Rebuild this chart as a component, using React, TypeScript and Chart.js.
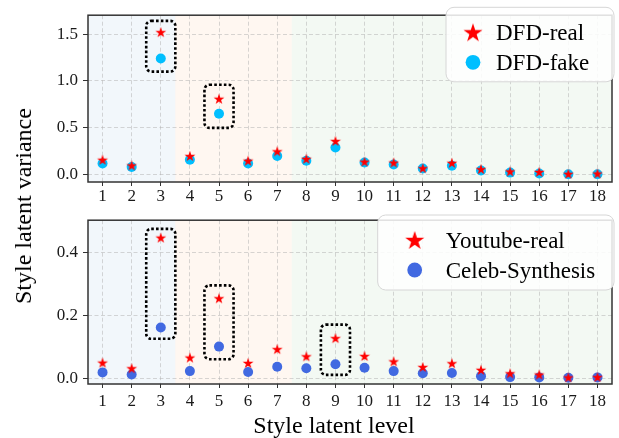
import React, { useEffect, useRef } from "react";
import { Chart, registerables } from "chart.js";

Chart.register(...registerables);

// ---------------- data ----------------
const LEVELS = [1, 2, 3, 4, 5, 6, 7, 8, 9, 10, 11, 12, 13, 14, 15, 16, 17, 18];

const DFD_REAL = [0.16, 0.10, 1.52, 0.20, 0.81, 0.15, 0.25, 0.17, 0.36, 0.14, 0.13, 0.07, 0.127, 0.06, 0.036, 0.03, 0.01, 0.013];
const DFD_FAKE = [0.12, 0.083, 1.24, 0.16, 0.65, 0.12, 0.20, 0.15, 0.29, 0.13, 0.11, 0.067, 0.097, 0.046, 0.023, 0.013, 0.005, 0.005];

const YT_REAL = [0.049, 0.031, 0.447, 0.065, 0.254, 0.048, 0.092, 0.069, 0.127, 0.07, 0.053, 0.035, 0.047, 0.026, 0.015, 0.011, 0.002, 0.003];
const CELEB_SYN = [0.018, 0.011, 0.161, 0.022, 0.10, 0.019, 0.036, 0.031, 0.044, 0.033, 0.022, 0.015, 0.016, 0.006, 0.003, 0.002, 0.001, 0.002];

const X_TICKS = LEVELS;
const TOP_Y_TICKS = [0, 0.5, 1.0, 1.5];
const BOTTOM_Y_TICKS = [0, 0.2, 0.4];

const BAND_EDGES = [0.5, 3.5, 7.5, 18.5];
const BAND_COLORS = ["rgba(31,119,180,0.06)", "rgba(255,127,14,0.06)", "rgba(44,160,44,0.06)"];

const TOP_BOX_X = [3, 5];
const TOP_BOX_LO = [1.1, 0.5];
const TOP_BOX_HI = [1.64, 0.96];

const BOTTOM_BOX_X = [3, 5, 9];
const BOTTOM_BOX_LO = [0.125, 0.06, 0.01];
const BOTTOM_BOX_HI = [0.475, 0.295, 0.17];

const TOP_LABELS = ["DFD-real", "DFD-fake"];
const BOTTOM_LABELS = ["Youtube-real", "Celeb-Synthesis"];
const X_TITLE = "Style latent level";
const Y_TITLE = "Style latent variance";

// ---------------- style ----------------
const FONT = '"Liberation Serif", "DejaVu Serif", serif';
const REAL_COLOR = "#ff0000";
const TOP_FAKE_COLOR = "#00bfff";
const BOTTOM_FAKE_COLOR = "#4169e1";
const GRID_COLOR = "rgba(176,176,176,0.5)";
const FRAME_COLOR = "#333333";
const BOX_HALF = 0.5;
const LEGEND_FONT = 23;

function makeStar(R: number, color: string): HTMLCanvasElement {
  const size = Math.ceil(2 * R + 2);
  const c = document.createElement("canvas");
  c.width = size;
  c.height = size;
  const ctx = c.getContext("2d")!;
  const cx = size / 2;
  const cy = size / 2 + R * 0.09;
  const r = R * 0.381966;
  ctx.beginPath();
  for (let k = 0; k < 10; k++) {
    const rad = k % 2 === 0 ? R : r;
    const a = -Math.PI / 2 + (k * Math.PI) / 5;
    const px = cx + rad * Math.cos(a);
    const py = cy + rad * Math.sin(a);
    if (k === 0) ctx.moveTo(px, py);
    else ctx.lineTo(px, py);
  }
  ctx.closePath();
  ctx.fillStyle = color;
  ctx.fill();
  return c;
}

function roundRectPath(ctx: CanvasRenderingContext2D, x: number, y: number, w: number, h: number, r: number) {
  ctx.beginPath();
  ctx.moveTo(x + r, y);
  ctx.lineTo(x + w - r, y);
  ctx.arcTo(x + w, y, x + w, y + r, r);
  ctx.lineTo(x + w, y + h - r);
  ctx.arcTo(x + w, y + h, x + w - r, y + h, r);
  ctx.lineTo(x + r, y + h);
  ctx.arcTo(x, y + h, x, y + h - r, r);
  ctx.lineTo(x, y + r);
  ctx.arcTo(x, y, x + r, y, r);
  ctx.closePath();
}

type PanelSpec = {
  real: number[];
  fake: number[];
  labels: string[];
  fakeColor: string;
  yMin: number;
  yMax: number;
  yTicks: number[];
  boxX: number[];
  boxLo: number[];
  boxHi: number[];
  legend: { x: number; y: number; w: number; h: number; markerDx: number; textDx: number };
  padTop: number;
  xAxisHeight: number;
  xTickPad: number;
  xTitle?: { text: string; x: number; y: number };
};

function makeConfig(p: PanelSpec): any {
  const plotStar = makeStar(5.7, REAL_COLOR);
  const legendStar = makeStar(10, REAL_COLOR);

  const decor = {
    id: "decor",
    beforeDraw(chart: any) {
      const { ctx, chartArea } = chart;
      const xs = chart.scales.x;
      ctx.save();
      for (let i = 0; i < BAND_COLORS.length; i++) {
        const x1 = xs.getPixelForValue(BAND_EDGES[i]);
        const x2 = xs.getPixelForValue(BAND_EDGES[i + 1]);
        ctx.fillStyle = BAND_COLORS[i];
        ctx.fillRect(x1, chartArea.top, x2 - x1, chartArea.bottom - chartArea.top);
      }
      ctx.restore();
    },
    afterDatasetsDraw(chart: any) {
      const { ctx, chartArea } = chart;
      const xs = chart.scales.x;
      const ys = chart.scales.y;
      ctx.save();
      ctx.strokeStyle = "#000";
      ctx.lineWidth = 2.6;
      ctx.setLineDash([2.6, 2.2]);
      for (let i = 0; i < p.boxX.length; i++) {
        const x1 = xs.getPixelForValue(p.boxX[i] - BOX_HALF);
        const x2 = xs.getPixelForValue(p.boxX[i] + BOX_HALF);
        const y1 = ys.getPixelForValue(p.boxHi[i]);
        const y2 = ys.getPixelForValue(p.boxLo[i]);
        roundRectPath(ctx, x1, y1, x2 - x1, y2 - y1, 5);
        ctx.stroke();
      }
      ctx.setLineDash([]);
      ctx.strokeStyle = FRAME_COLOR;
      ctx.lineWidth = 1.5;
      ctx.strokeRect(chartArea.left, chartArea.top, chartArea.right - chartArea.left, chartArea.bottom - chartArea.top);
      ctx.restore();
    },
    afterDraw(chart: any) {
      const { ctx } = chart;
      const L = p.legend;
      ctx.save();
      roundRectPath(ctx, L.x, L.y, L.w, L.h, 8);
      ctx.fillStyle = "rgba(255,255,255,0.85)";
      ctx.fill();
      ctx.strokeStyle = "#d6d6d6";
      ctx.lineWidth = 1;
      ctx.stroke();
      const rows = [L.y + 25, L.y + 55];
      const mx = L.x + L.markerDx;
      ctx.drawImage(legendStar, mx - legendStar.width / 2, rows[0] - legendStar.height / 2);
      ctx.beginPath();
      ctx.arc(mx, rows[1], 7.4, 0, Math.PI * 2);
      ctx.fillStyle = p.fakeColor;
      ctx.fill();
      ctx.fillStyle = "#000";
      ctx.font = `${LEGEND_FONT}px ${FONT}`;
      ctx.textBaseline = "alphabetic";
      ctx.textAlign = "left";
      for (let i = 0; i < 2; i++) {
        ctx.fillText(p.labels[i], L.x + L.textDx, rows[i] + LEGEND_FONT * 0.331);
      }
      if (p.xTitle) {
        ctx.font = `24px ${FONT}`;
        ctx.textAlign = "center";
        ctx.fillText(p.xTitle.text, p.xTitle.x, p.xTitle.y);
      }
      ctx.restore();
    },
  };

  return {
    type: "scatter",
    plugins: [decor],
    data: {
      datasets: [
        {
          label: p.labels[0],
          data: LEVELS.map((x, i) => ({ x, y: p.real[i] })),
          pointStyle: plotStar,
          pointRadius: 6,
          order: 0,
        },
        {
          label: p.labels[1],
          data: LEVELS.map((x, i) => ({ x, y: p.fake[i] })),
          pointStyle: "circle",
          pointRadius: 5,
          pointBorderWidth: 0,
          borderWidth: 0,
          backgroundColor: p.fakeColor,
          pointBackgroundColor: p.fakeColor,
          order: 1,
        },
      ],
    },
    options: {
      responsive: false,
      animation: false,
      events: [],
      layout: { padding: { left: 0, right: 2, top: p.padTop, bottom: 0 } },
      plugins: { legend: { display: false }, tooltip: { enabled: false }, title: { display: false } },
      scales: {
        x: {
          type: "linear",
          min: 0.5,
          max: 18.5,
          afterBuildTicks: (axis: any) => {
            axis.ticks = X_TICKS.map((v) => ({ value: v }));
          },
          afterFit: (axis: any) => {
            axis.height = p.xAxisHeight;
          },
          ticks: {
            autoSkip: false,
            maxRotation: 0,
            minRotation: 0,
            padding: p.xTickPad,
            color: "#1a1a1a",
            font: { family: FONT, size: 17 },
            callback: (v: any) => String(v),
          },
          grid: {
            color: GRID_COLOR,
            lineWidth: 1,
            tickLength: 4,
            tickColor: FRAME_COLOR,
            tickWidth: 1,
          },
          border: { display: false, dash: [4, 2.5] },
        },
        y: {
          type: "linear",
          min: p.yMin,
          max: p.yMax,
          afterBuildTicks: (axis: any) => {
            axis.ticks = p.yTicks.map((v) => ({ value: v }));
          },
          afterFit: (axis: any) => {
            axis.width = 88;
          },
          ticks: {
            padding: 5,
            color: "#1a1a1a",
            font: { family: FONT, size: 17 },
            callback: (v: any) => Number(v).toFixed(1),
          },
          grid: {
            color: GRID_COLOR,
            lineWidth: 1,
            tickLength: 5,
            tickColor: FRAME_COLOR,
            tickWidth: 1,
          },
          border: { display: false, dash: [4, 2.5] },
        },
      },
    },
  };
}

export default function App() {
  const topRef = useRef<HTMLCanvasElement>(null);
  const bottomRef = useRef<HTMLCanvasElement>(null);

  useEffect(() => {
    document.body.style.margin = "0";
    const top = new Chart(
      topRef.current!,
      makeConfig({
        real: DFD_REAL,
        fake: DFD_FAKE,
        labels: TOP_LABELS,
        fakeColor: TOP_FAKE_COLOR,
        yMin: -0.077,
        yMax: 1.701,
        yTicks: TOP_Y_TICKS,
        boxX: TOP_BOX_X,
        boxLo: TOP_BOX_LO,
        boxHi: TOP_BOX_HI,
        legend: { x: 446, y: 7.3, w: 168, h: 74.5, markerDx: 27, textDx: 50 },
        padTop: 5,
        xAxisHeight: 23,
        xTickPad: 0.5,
      })
    );
    const bottom = new Chart(
      bottomRef.current!,
      makeConfig({
        real: YT_REAL,
        fake: CELEB_SYN,
        labels: BOTTOM_LABELS,
        fakeColor: BOTTOM_FAKE_COLOR,
        yMin: -0.019,
        yMax: 0.5025,
        yTicks: BOTTOM_Y_TICKS,
        boxX: BOTTOM_BOX_X,
        boxLo: BOTTOM_BOX_LO,
        boxHi: BOTTOM_BOX_HI,
        legend: { x: 377.7, y: 10, w: 236.3, h: 75, markerDx: 37, textDx: 68 },
        padTop: 6,
        xAxisHeight: 54,
        xTickPad: 3,
        xTitle: { text: X_TITLE, x: 334, y: 227.5 },
      })
    );
    return () => {
      top.destroy();
      bottom.destroy();
    };
  }, []);

  return (
    <div style={{ position: "absolute", left: 0, top: 0, width: 619, height: 438, background: "#fff", overflow: "hidden" }}>
      <canvas ref={topRef} width={619} height={205} style={{ position: "absolute", left: 0, top: 0 }} />
      <canvas ref={bottomRef} width={619} height={233} style={{ position: "absolute", left: 0, top: 205 }} />
      <div
        style={{
          position: "absolute",
          left: 23,
          top: 206,
          transform: "translate(-50%, -50%) rotate(-90deg)",
          font: `24px ${FONT}`,
          lineHeight: "24px",
          whiteSpace: "nowrap",
          color: "#000",
        }}
      >
        {Y_TITLE}
      </div>
    </div>
  );
}
